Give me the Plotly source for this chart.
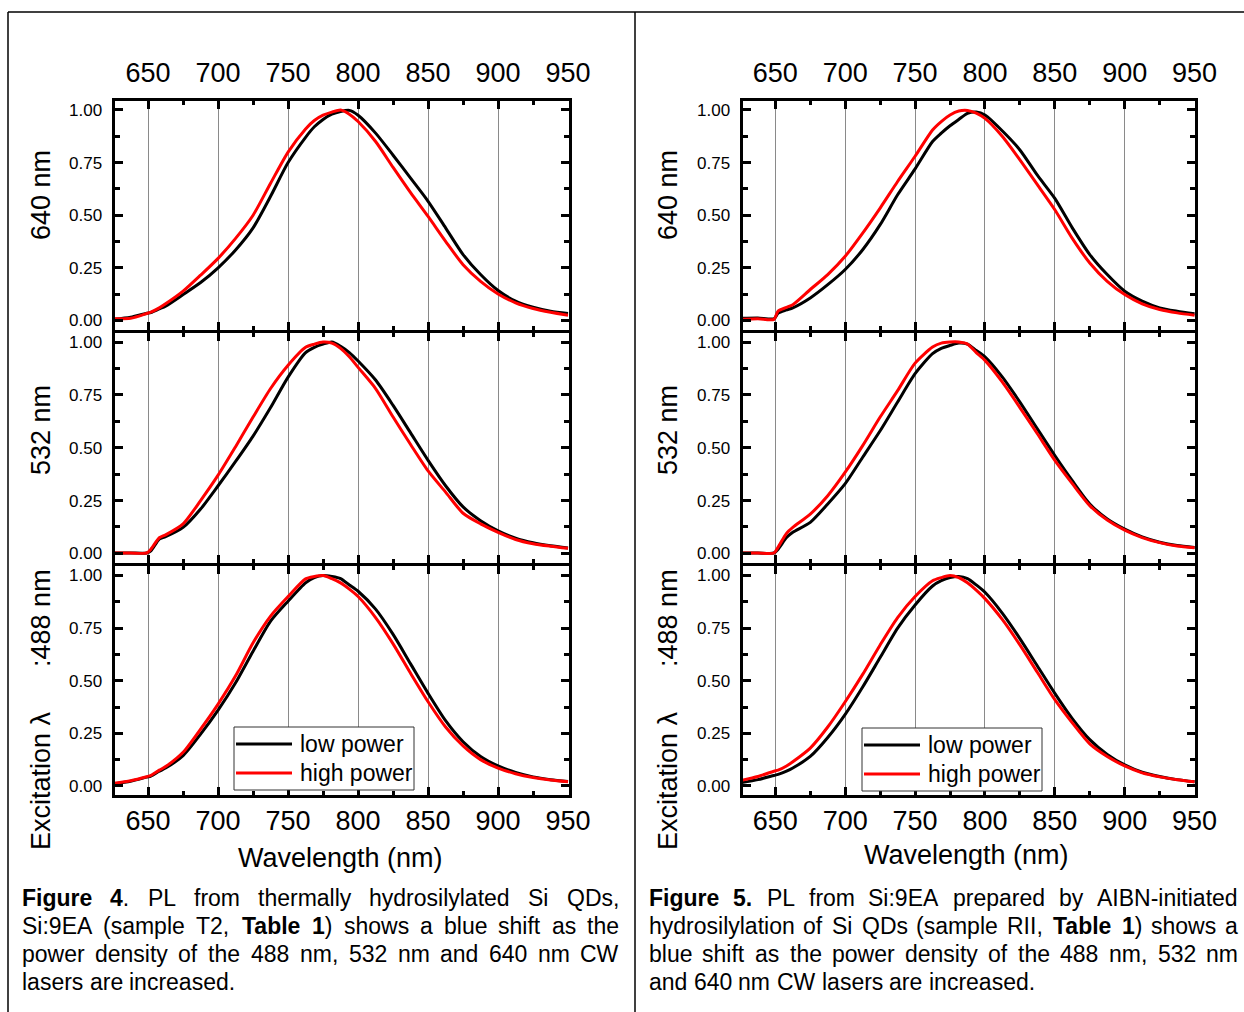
import re
import plotly.graph_objects as go

W, H = 1244, 1012

# ---------------- data ----------------
wavelength = [625, 637.5, 649, 652, 658, 662.5, 675, 687.5, 700, 712.5, 725, 737.5, 750,
              762.5, 768.75, 775, 781.25, 787.5, 793.75, 800, 812.5, 825, 837.5, 850,
              862.5, 875, 887.5, 900, 912.5, 925, 937.5, 950]

t2_640_low = [0.005, 0.015, 0.034, 0.038, 0.055, 0.068, 0.123, 0.18, 0.25, 0.335, 0.44, 0.59, 0.75,
              0.87, 0.92, 0.955, 0.98, 0.993, 0.998, 0.975, 0.89, 0.785, 0.676, 0.566,
              0.44, 0.313, 0.218, 0.142, 0.092, 0.063, 0.044, 0.033]
t2_640_high = [0.008, 0.01, 0.033, 0.04, 0.06, 0.079, 0.139, 0.215, 0.295, 0.39, 0.5, 0.652, 0.80,
               0.91, 0.95, 0.975, 0.99, 1.0, 0.98, 0.945, 0.85, 0.727, 0.607, 0.494,
               0.376, 0.265, 0.186, 0.126, 0.084, 0.057, 0.039, 0.025]

t2_532_low = [0.002, 0.002, 0.002, 0.012, 0.068, 0.079, 0.123, 0.21, 0.32, 0.435, 0.555, 0.69, 0.834,
              0.95, 0.975, 0.99, 1.0, 0.98, 0.95, 0.91, 0.82, 0.70, 0.57, 0.44,
              0.32, 0.22, 0.155, 0.107, 0.072, 0.05, 0.036, 0.026]
t2_532_high = [0.002, 0.002, 0.002, 0.02, 0.074, 0.088, 0.14, 0.25, 0.37, 0.505, 0.645, 0.78, 0.89,
               0.975, 0.99, 1.0, 0.995, 0.97, 0.93, 0.88, 0.78, 0.645, 0.515, 0.39,
               0.29, 0.19, 0.14, 0.10, 0.066, 0.046, 0.034, 0.024]

t2_488_low = [0.009, 0.022, 0.042, 0.047, 0.07, 0.085, 0.144, 0.246, 0.36, 0.49, 0.64, 0.783, 0.878,
              0.965, 0.99, 1.0, 0.995, 0.985, 0.955, 0.925, 0.84, 0.72, 0.58, 0.44,
              0.31, 0.21, 0.14, 0.095, 0.064, 0.043, 0.03, 0.021]
t2_488_high = [0.012, 0.025, 0.044, 0.05, 0.075, 0.092, 0.16, 0.27, 0.389, 0.523, 0.68, 0.807, 0.9,
               0.984, 0.995, 1.0, 0.985, 0.965, 0.935, 0.9, 0.8, 0.675, 0.535, 0.40,
               0.28, 0.19, 0.125, 0.085, 0.058, 0.04, 0.028, 0.02]

rii_640_low = [0.01, 0.012, 0.008, 0.035, 0.05, 0.06, 0.107, 0.17, 0.242, 0.336, 0.455, 0.597, 0.72,
               0.85, 0.89, 0.925, 0.955, 0.984, 0.99, 0.976, 0.90, 0.81, 0.69, 0.58,
               0.44, 0.313, 0.218, 0.139, 0.092, 0.06, 0.044, 0.032]
rii_640_high = [0.005, 0.008, 0.005, 0.045, 0.062, 0.075, 0.147, 0.218, 0.305, 0.415, 0.534, 0.66, 0.78,
                0.905, 0.945, 0.976, 0.995, 0.998, 0.985, 0.96, 0.874, 0.763, 0.645, 0.526,
                0.39, 0.273, 0.186, 0.123, 0.079, 0.052, 0.036, 0.025]

rii_532_low = [0.002, 0.002, 0.002, 0.02, 0.075, 0.1, 0.147, 0.234, 0.33, 0.455, 0.58, 0.716, 0.85,
               0.945, 0.97, 0.984, 0.995, 0.99, 0.96, 0.93, 0.834, 0.716, 0.589, 0.463,
               0.344, 0.234, 0.163, 0.115, 0.078, 0.053, 0.037, 0.028]
rii_532_high = [0.002, 0.002, 0.002, 0.03, 0.095, 0.123, 0.186, 0.273, 0.384, 0.51, 0.645, 0.77, 0.9,
                0.976, 0.995, 1.0, 1.0, 0.99, 0.95, 0.913, 0.81, 0.69, 0.566, 0.44,
                0.33, 0.226, 0.158, 0.11, 0.075, 0.051, 0.035, 0.027]

rii_488_low = [0.015, 0.03, 0.05, 0.055, 0.07, 0.085, 0.14, 0.23, 0.34, 0.47, 0.61, 0.75, 0.86,
               0.95, 0.975, 0.99, 0.995, 0.985, 0.955, 0.92, 0.82, 0.70, 0.57, 0.44,
               0.32, 0.22, 0.15, 0.10, 0.065, 0.045, 0.03, 0.02]
rii_488_high = [0.025, 0.045, 0.07, 0.075, 0.095, 0.115, 0.18, 0.28, 0.40, 0.53, 0.67, 0.80, 0.90,
                0.975, 0.99, 1.0, 0.99, 0.965, 0.93, 0.89, 0.79, 0.67, 0.54, 0.41,
                0.30, 0.20, 0.14, 0.095, 0.062, 0.043, 0.03, 0.02]

x_ticks = [650, 700, 750, 800, 850, 900, 950]
x_minor = [675, 725, 775, 825, 875, 925]
y_ticks = [0, 0.25, 0.5, 0.75, 1.0]
y_minor = [0.125, 0.375, 0.625, 0.875]
y_ticktext = ["0.00", "0.25", "0.50", "0.75", "1.00"]
panel_titles = ["640 nm", "532 nm",
                "Excitation \u03bb\u00a0\u00a0\u00a0\u00a0\u00a0\u00a0:488 nm"]
series_names = ["low power", "high power"]
x_title = "Wavelength (nm)"

caption_left = [
    "<b>Figure</b> <b>4</b>. PL from thermally hydrosilylated Si QDs,",
    "Si:9EA (sample T2, <b>Table</b> <b>1</b>) shows a blue shift as the",
    "power density of the 488 nm, 532 nm and 640 nm CW",
    "lasers are increased.",
]
caption_right = [
    "<b>Figure</b> <b>5.</b> PL from Si:9EA prepared by AIBN-initiated",
    "hydrosilylation of Si QDs (sample RII, <b>Table</b> <b>1</b>) shows a",
    "blue shift as the power density of the 488 nm, 532 nm",
    "and 640 nm CW lasers are increased.",
]

left_panels = [(t2_640_low, t2_640_high), (t2_532_low, t2_532_high), (t2_488_low, t2_488_high)]
right_panels = [(rii_640_low, rii_640_high), (rii_532_low, rii_532_high), (rii_488_low, rii_488_high)]

# ---------------- layout geometry (pixels) ----------------
def PX(x):
    return x / W


def PY(y):
    return 1 - y / H


FONT = "Liberation Sans, Arial, sans-serif"

col_x = [(114.5, 568.5), (742.5, 1195)]
col_range = [(626, 950.3), (626.5, 950.3)]
row_y = [(100.5, 329.5), (332.5, 562.5), (566, 795)]
y_range = [-0.043, 1.045]

fig = go.Figure()
layout = dict(
    width=W, height=H, autosize=False,
    margin=dict(l=0, r=0, t=0, b=0, pad=0, autoexpand=False),
    paper_bgcolor="white", plot_bgcolor="white", showlegend=False,
    font=dict(family=FONT, color="black"),
)

idx = 0
for c, panels in enumerate([left_panels, right_panels]):
    for r, (low, high) in enumerate(panels):
        idx += 1
        xs = "" if idx == 1 else str(idx)
        fig.add_trace(go.Scatter(x=wavelength, y=low, mode="lines", name=series_names[0],
                                 line=dict(color="#000000", width=3, shape="spline", smoothing=0.7),
                                 xaxis="x" + xs, yaxis="y" + xs))
        fig.add_trace(go.Scatter(x=wavelength, y=high, mode="lines", name=series_names[1],
                                 line=dict(color="#ff0000", width=3, shape="spline", smoothing=0.7),
                                 xaxis="x" + xs, yaxis="y" + xs))
        xa = dict(
            domain=[PX(col_x[c][0]), PX(col_x[c][1])], anchor="y" + xs,
            range=list(col_range[c]), tickmode="array", tickvals=x_ticks,
            ticks="inside", ticklen=8, tickwidth=3, tickcolor="black",
            showline=True, linewidth=3, linecolor="black", mirror="allticks",
            showgrid=True, gridcolor="#8a8a8a", gridwidth=1, zeroline=False,
            minor=dict(ticks="inside", ticklen=4, tickwidth=2.5, tickcolor="black",
                       tickvals=x_minor, showgrid=False),
            tickfont=dict(size=27, family=FONT, color="black"),
            showticklabels=(r != 1), side="top" if r == 0 else "bottom",
            ticklabelstandoff=5 if r == 0 else 0, automargin=False,
        )
        ya = dict(
            domain=[PY(row_y[r][1]), PY(row_y[r][0])], anchor="x" + xs,
            range=y_range, tickmode="array", tickvals=y_ticks, ticktext=y_ticktext,
            ticks="inside", ticklen=8, tickwidth=3, tickcolor="black",
            showline=True, linewidth=3, linecolor="black", mirror="allticks",
            showgrid=False, zeroline=False,
            minor=dict(ticks="inside", ticklen=5, tickwidth=2.5, tickcolor="black",
                       tickvals=y_minor, showgrid=False),
            tickfont=dict(size=17, family=FONT, color="black"),
            ticklabelstandoff=6, automargin=False,
        )
        layout["xaxis" + xs] = xa
        layout["yaxis" + xs] = ya

fig.update_layout(**layout)

annotations = []
shapes = []

# y titles
title_centers = [195, 430, 710]
for cx in (41, 668):
    for r in range(3):
        annotations.append(dict(x=PX(cx), y=PY(title_centers[r]), xref="paper", yref="paper",
                                text=panel_titles[r], textangle=-90, showarrow=False,
                                xanchor="center", yanchor="middle",
                                font=dict(size=27, family=FONT, color="black")))
# x titles
for cx, cy in ((340, 858), (967, 855)):
    annotations.append(dict(x=PX(cx), y=PY(cy), xref="paper", yref="paper", text=x_title,
                            showarrow=False, xanchor="center", yanchor="middle",
                            font=dict(size=27, family=FONT, color="black")))

# legends (drawn manually to match the long line samples)
for (bx0, by0, bx1, by1) in ((234, 727, 414, 790), (862, 728, 1042, 791)):
    shapes.append(dict(type="rect", xref="paper", yref="paper", x0=PX(bx0), x1=PX(bx1),
                       y0=PY(by1), y1=PY(by0), line=dict(color="#333333", width=1),
                       fillcolor="white", layer="above"))
    for k, (col, name) in enumerate((("#000000", series_names[0]), ("#ff0000", series_names[1]))):
        ly = by0 + 17 + k * 29
        shapes.append(dict(type="line", xref="paper", yref="paper", x0=PX(bx0 + 2), x1=PX(bx0 + 58),
                           y0=PY(ly), y1=PY(ly), line=dict(color=col, width=3), layer="above"))
        annotations.append(dict(x=PX(bx0 + 64), y=PY(ly), xref="paper", yref="paper", text=name,
                                showarrow=False, xanchor="left", yanchor="middle",
                                font=dict(size=23, family=FONT, color="black")))

# outer frame
for (x0, y0, x1, y1) in ((8, 12, 1244, 12), (8, 12, 8, 1012), (635, 12, 635, 1012)):
    shapes.append(dict(type="line", xref="paper", yref="paper", x0=PX(x0), x1=PX(x1),
                       y0=PY(y0), y1=PY(y1), line=dict(color="black", width=1.5)))

# captions (justified word by word)
REG = {}
BLD = {}
up = "ABCDEFGHIJKLMNOPQRSTUVWXYZ"
lo = "abcdefghijklmnopqrstuvwxyz"
reg_up = [667, 667, 722, 722, 667, 611, 778, 722, 278, 500, 667, 556, 833, 722, 778, 667, 778, 722, 667, 611, 722, 667, 944, 667, 667, 611]
reg_lo = [556, 556, 500, 556, 556, 278, 556, 556, 222, 222, 500, 222, 833, 556, 556, 556, 556, 333, 500, 278, 556, 500, 722, 500, 500, 500]
bld_up = [722, 722, 722, 722, 667, 611, 778, 722, 278, 556, 722, 611, 833, 722, 778, 667, 778, 722, 667, 611, 722, 667, 944, 667, 667, 611]
bld_lo = [556, 611, 556, 611, 556, 333, 611, 611, 278, 278, 556, 278, 889, 611, 611, 611, 611, 389, 556, 333, 611, 556, 778, 556, 556, 500]
for ch, w in zip(up, reg_up):
    REG[ch] = w
for ch, w in zip(lo, reg_lo):
    REG[ch] = w
for ch, w in zip(up, bld_up):
    BLD[ch] = w
for ch, w in zip(lo, bld_lo):
    BLD[ch] = w
for d in "0123456789":
    REG[d] = 556
    BLD[d] = 556
for ch, w in ((" ", 278), (".", 278), (",", 278), (":", 278), ("(", 333), (")", 333), ("-", 333)):
    REG[ch] = w
    BLD[ch] = w

CAP_SIZE = 23


def word_width(word):
    total = 0
    for part in re.split(r"(<b>.*?</b>)", word):
        if part.startswith("<b>"):
            total += sum(BLD.get(ch, 556) for ch in part[3:-4])
        else:
            total += sum(REG.get(ch, 556) for ch in part)
    return total * CAP_SIZE / 1000


def add_caption(lines, left, right, y0, dy):
    for i, line in enumerate(lines):
        words = line.split(" ")
        widths = [word_width(w) for w in words]
        last = i == len(lines) - 1
        if last or len(words) == 1:
            gap = 278 * CAP_SIZE / 1000
        else:
            gap = (right - left - sum(widths)) / (len(words) - 1)
        x = left
        for w, wd in zip(words, widths):
            annotations.append(dict(x=PX(x + wd / 2), y=PY(y0 + i * dy), xref="paper", yref="paper",
                                    text=w, showarrow=False, xanchor="center", yanchor="middle",
                                    font=dict(size=CAP_SIZE, family=FONT, color="black")))
            x += wd + gap


add_caption(caption_left, 22, 619, 898, 28)
add_caption(caption_right, 649, 1238, 898, 28)

fig.update_layout(annotations=annotations, shapes=shapes)

fig.write_html("out.html", config={"responsive": False, "displayModeBar": False},
               post_script="document.body.style.margin='0';document.body.style.overflow='hidden';")
